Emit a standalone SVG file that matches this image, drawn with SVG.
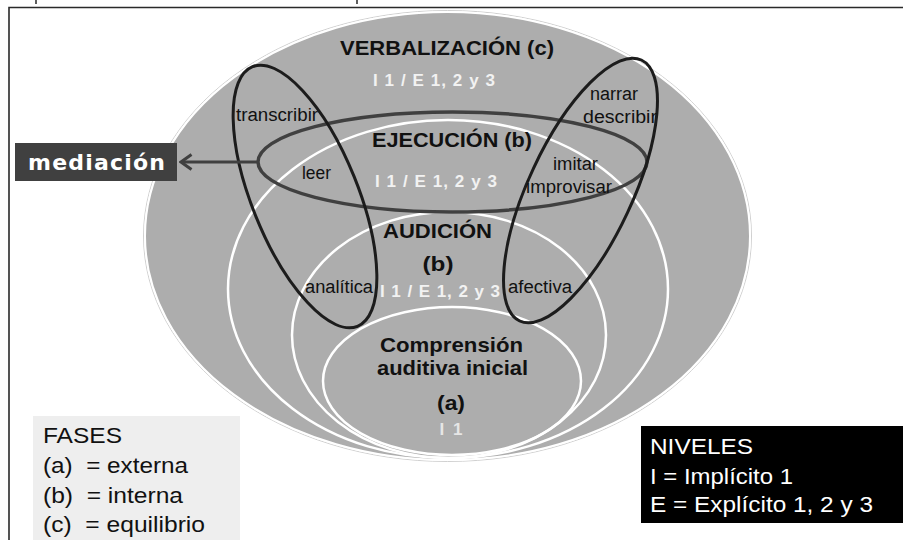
<svg xmlns="http://www.w3.org/2000/svg" width="903" height="540" viewBox="0 0 903 540">
<defs>
<style>
.lbl{font-family:"Liberation Sans",Arial,sans-serif;font-size:18px;fill:#111}
.hd{font-family:"Liberation Sans",Arial,sans-serif;font-size:21px;font-weight:bold;fill:#111}
.lv{font-family:"Liberation Sans",Arial,sans-serif;font-size:17px;font-weight:bold;fill:#f2f2f2}
.lg{font-family:"Liberation Sans",Arial,sans-serif;font-size:22px}
.wring{fill:none;stroke:#ffffff;stroke-width:2.5}
.blk{fill:none;stroke:#1c1c1c;stroke-width:3}
</style>
<marker id="chev" viewBox="0 0 14 18" refX="12" refY="9" markerWidth="14" markerHeight="18" markerUnits="userSpaceOnUse" orient="auto">
<path d="M1.5,1.5 L12,9 L1.5,16.5" fill="none" stroke="#404040" stroke-width="3" stroke-linejoin="miter"/>
</marker>
</defs>
<rect width="903" height="540" fill="#ffffff"/>
<g id="frame" stroke="#2a2a2a" fill="none">
<path d="M9,540 V7.5 H903" stroke-width="1.6"/>
<path d="M36,0 V4 M357,0 V4" stroke-width="1.5"/>
</g>
<g id="verbalizacion">
<ellipse cx="447.5" cy="236" rx="304" ry="225.5" fill="none" stroke="#d0d0d0" stroke-width="1"/>
<ellipse cx="447.5" cy="236" rx="302.5" ry="224" fill="#adadad" stroke="#ffffff" stroke-width="2"/>
<text class="hd" x="447" y="55" text-anchor="middle" textLength="214" lengthAdjust="spacingAndGlyphs">VERBALIZACIÓN (c)</text>
<text class="lv" x="434" y="86" text-anchor="middle" textLength="122" lengthAdjust="spacing">I 1 / E 1, 2 y 3</text>
</g>
<g id="ejecucion">
<ellipse class="wring" cx="448" cy="289" rx="220" ry="169"/>
</g>
<g id="audicion">
<ellipse class="wring" cx="449" cy="335" rx="157" ry="123"/>
</g>
<g id="comprension">
<ellipse class="wring" cx="452" cy="381" rx="129" ry="74"/>
<text class="hd" x="380" y="352" font-size="20" textLength="143" lengthAdjust="spacingAndGlyphs">Comprensión</text>
<text class="hd" x="377" y="375" font-size="20" textLength="151" lengthAdjust="spacingAndGlyphs">auditiva inicial</text>
<text class="hd" x="451" y="410" text-anchor="middle" textLength="28" lengthAdjust="spacingAndGlyphs">(a)</text>
<text class="lv" x="451" y="435" text-anchor="middle" style="fill:#e6e6e6" textLength="23" lengthAdjust="spacing">I 1</text>
</g>
<g id="ejecucion-ring">
<ellipse cx="452.5" cy="162" rx="194.5" ry="50" fill="none" stroke="#404040" stroke-width="3.5"/>
</g>
<g id="escritura">
<ellipse class="blk" cx="305" cy="196.5" rx="140" ry="53" transform="rotate(68 305 196.5)"/>
</g>
<g id="oral">
<ellipse class="blk" cx="580.5" cy="190.5" rx="144" ry="52" transform="rotate(-65 580.5 190.5)"/>
</g>
<g id="labels">
<text class="hd" x="452" y="147" text-anchor="middle" textLength="160" lengthAdjust="spacingAndGlyphs">EJECUCIÓN (b)</text>
<text class="lv" x="436" y="187" text-anchor="middle" textLength="122" lengthAdjust="spacing">I 1 / E 1, 2 y 3</text>
<text class="hd" x="383" y="238" font-size="20" textLength="109" lengthAdjust="spacingAndGlyphs">AUDICIÓN</text>
<text class="hd" x="438" y="271" text-anchor="middle" textLength="31" lengthAdjust="spacingAndGlyphs">(b)</text>
<text class="lv" x="380" y="297" textLength="120" lengthAdjust="spacing">I 1 / E 1, 2 y 3</text>
<text class="lbl" x="236" y="121" textLength="82" lengthAdjust="spacingAndGlyphs">transcribir</text>
<text class="lbl" x="302" y="179" textLength="29" lengthAdjust="spacingAndGlyphs">leer</text>
<text class="lbl" x="590" y="100" textLength="48" lengthAdjust="spacingAndGlyphs">narrar</text>
<text class="lbl" x="583" y="123" textLength="74" lengthAdjust="spacingAndGlyphs">describir</text>
<text class="lbl" x="553" y="170" textLength="45" lengthAdjust="spacingAndGlyphs">imitar</text>
<text class="lbl" x="526" y="193" textLength="86" lengthAdjust="spacingAndGlyphs">improvisar</text>
<text class="lbl" x="305" y="293" textLength="68" lengthAdjust="spacingAndGlyphs">analítica</text>
<text class="lbl" x="508" y="293" textLength="64" lengthAdjust="spacingAndGlyphs">afectiva</text>
</g>
<g id="connectors">
<path d="M258,162 H181" fill="none" stroke="#404040" stroke-width="3" marker-end="url(#chev)"/>
</g>
<g id="mediacion">
<rect x="15" y="143" width="162" height="38" fill="#404040"/>
<text x="28" y="170" font-family="'DejaVu Sans',Verdana,sans-serif" font-size="22" font-weight="bold" fill="#ffffff" textLength="137" lengthAdjust="spacing">mediación</text>
</g>
<g id="fases">
<rect x="33" y="416" width="207" height="124" fill="#eeeeee"/>
<text class="lg" x="43" y="443" fill="#111" textLength="79" lengthAdjust="spacingAndGlyphs">FASES</text>
<text class="lg" x="43" y="473" fill="#111" xml:space="preserve" textLength="145" lengthAdjust="spacingAndGlyphs">(a)  = externa</text>
<text class="lg" x="43" y="503" fill="#111" xml:space="preserve" textLength="140" lengthAdjust="spacingAndGlyphs">(b)  = interna</text>
<text class="lg" x="43" y="532" fill="#111" xml:space="preserve" textLength="162" lengthAdjust="spacingAndGlyphs">(c)  = equilibrio</text>
</g>
<g id="niveles">
<rect x="641" y="426" width="262" height="97" fill="#000000"/>
<text class="lg" x="650" y="454" fill="#ffffff" textLength="103" lengthAdjust="spacingAndGlyphs">NIVELES</text>
<text class="lg" x="650" y="484" fill="#ffffff" textLength="143" lengthAdjust="spacingAndGlyphs">I = Implícito 1</text>
<text class="lg" x="650" y="512" fill="#ffffff" textLength="223" lengthAdjust="spacingAndGlyphs">E = Explícito 1, 2 y 3</text>
</g>
</svg>
